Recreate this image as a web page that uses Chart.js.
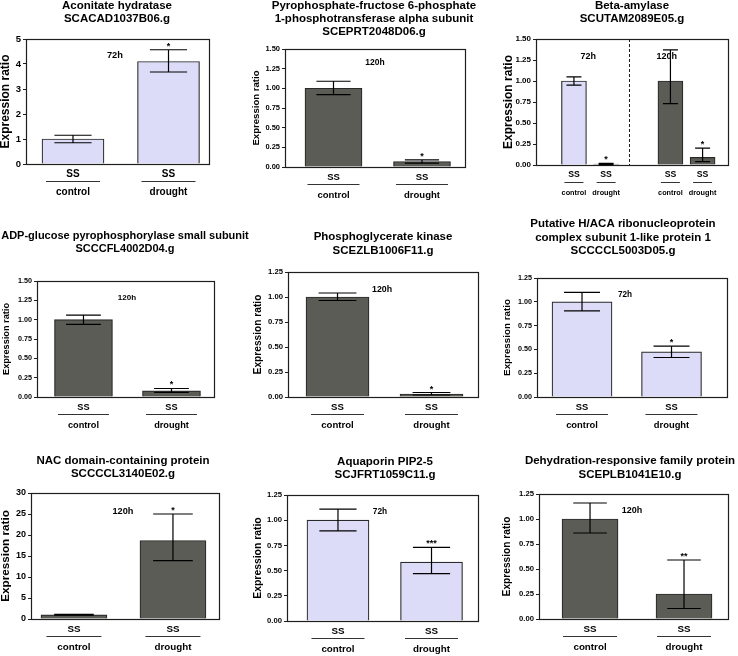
<!DOCTYPE html>
<html>
<head>
<meta charset="utf-8">
<script src="https://cdn.jsdelivr.net/npm/chart.js@4.4.0/dist/chart.umd.min.js"></script>
<style>
  body { margin: 0; background: #fff; }
  #wrap { position: relative; width: 738px; height: 656px; overflow: hidden; background: #fff; }
  #wrap canvas { position: absolute; }
</style>
</head>
<body>
<div id="wrap"></div>
<script>
// ---- data (one entry per panel, reading order) ----
const titles = [
  ['Aconitate hydratase', 'SCACAD1037B06.g'],
  ['Pyrophosphate-fructose 6-phosphate', '1-phosphotransferase alpha subunit', 'SCEPRT2048D06.g'],
  ['Beta-amylase', 'SCUTAM2089E05.g'],
  ['ADP-glucose pyrophosphorylase small subunit', 'SCCCFL4002D04.g'],
  ['Phosphoglycerate kinase', 'SCEZLB1006F11.g'],
  ['Putative H/ACA ribonucleoprotein', 'complex subunit 1-like protein 1', 'SCCCCL5003D05.g'],
  ['NAC domain-containing protein', 'SCCCCL3140E02.g'],
  ['Aquaporin PIP2-5', 'SCJFRT1059C11.g'],
  ['Dehydration-responsive family protein', 'SCEPLB1041E10.g']
];
const genotype = 'SS';
const conditions = [
  ['control', 'drought'], ['control', 'drought'], ['control', 'drought', 'control', 'drought'],
  ['control', 'drought'], ['control', 'drought'], ['control', 'drought'],
  ['control', 'drought'], ['control', 'drought'], ['control', 'drought']
];
const times = [
  ['72h', '72h'], ['120h', '120h'], ['72h', '72h', '120h', '120h'],
  ['120h', '120h'], ['120h', '120h'], ['72h', '72h'],
  ['120h', '120h'], ['72h', '72h'], ['120h', '120h']
];
const means = [
  [1.0, 4.1], [1.0, 0.07], [1.0, 0.012, 1.0, 0.09],
  [1.0, 0.08], [1.0, 0.03], [1.0, 0.475],
  [1.0, 18.7], [1.0, 0.585], [1.0, 0.25]
];
const errLow = [
  [0.85, 3.68], [0.92, 0.05], [0.95, 0.005, 0.73, 0.04],
  [0.94, 0.06], [0.965, 0.02], [0.905, 0.415],
  [0.9, 13.9], [0.895, 0.47], [0.86, 0.105]
];
const errHigh = [
  [1.15, 4.57], [1.09, 0.09], [1.05, 0.02, 1.37, 0.2],
  [1.06, 0.11], [1.04, 0.045], [1.10, 0.535],
  [1.1, 25.0], [1.11, 0.73], [1.16, 0.59]
];
const stars = [
  ['', '*'], ['', '*'], ['', '*', '', '*'],
  ['', '*'], ['', '*'], ['', '*'],
  ['', '*'], ['', '***'], ['', '**']
];
const yMax = [5, 1.5, 1.5, 1.5, 1.25, 1.25, 30, 1.25, 1.25];
const yStep = [1, 0.25, 0.25, 0.25, 0.25, 0.25, 5, 0.25, 0.25];
const yDec = [0, 2, 2, 2, 2, 2, 0, 2, 2];

// ---- look & placement ----
const barColors = { '72h': '#dcdcf8', '120h': '#5a5c55' };
const FONT = '"Liberation Sans", Arial, Helvetica, sans-serif';
Chart.defaults.font.family = FONT;

// box: canvas [x, y, w, h]; area: plot [left, top, right, bottom] (page px)
// slots: category slot of each bar on the x axis (a gap slot splits time points)
const layout = [
  { box: [0, 0, 245, 210], area: [26, 39, 209, 164], xr: [0.508, 2.424], bar: 62, lineW: 54, tfs: 11.5,
    titleX: 117, titleY: [6, 19], yTitleX: 6, fs: { tick: 9.5, ytitle: 12, label: 10, group: 10, tag: 9.3 }, tags: [[0.486, 0.128]] },
  { box: [245, 0, 245, 210], area: [285, 49, 465, 167], xr: [0.452, 2.486], bar: 57, lineW: 52, tfs: 11.5,
    titleX: 374, titleY: [6, 18.5, 31.5], yTitleX: 256.7, fs: { tick: 7.5, ytitle: 9.6, label: 9.5, group: 9.5, tag: 8.5 }, tags: [[0.5, 0.119]] },
  { box: [490, 0, 248, 210], area: [536, 39, 728, 165], xr: [-0.18, 5.79], bar: 25, lineW: 19, tfs: 11.5, slots: [1, 2, 4, 5],
    titleX: 632, titleY: [6, 19], yTitleX: 508.3, fs: { tick: 8, ytitle: 12, label: 8.7, group: 7.3, tag: 9 },
    tags: [[0.272, 0.14], [0.681, 0.14]], divider: 0.484 },
  { box: [0, 210, 250, 220], area: [37, 281, 214, 397], xr: [0.472, 2.483], bar: 58, lineW: 51, tfs: 11,
    titleX: 125, titleY: [236, 249], yTitleX: 6.7, fs: { tick: 7.2, ytitle: 9.2, label: 9.2, group: 9.2, tag: 8 }, tags: [[0.508, 0.147]] },
  { box: [245, 210, 245, 220], area: [288, 272, 478, 397], xr: [0.473, 2.495], bar: 63, lineW: 53, tfs: 11.5,
    titleX: 383, titleY: [237, 251], yTitleX: 257.7, fs: { tick: 7.7, ytitle: 10.2, label: 9.6, group: 9.6, tag: 8.8 }, tags: [[0.495, 0.144]] },
  { box: [490, 210, 248, 220], area: [537, 278, 727, 397], xr: [0.497, 2.62], bar: 60, lineW: 52, tfs: 11.5,
    titleX: 623, titleY: [224, 238, 251], yTitleX: 507.3, fs: { tick: 7.2, ytitle: 9.8, label: 9.4, group: 9.4, tag: 8.2 }, tags: [[0.463, 0.143]] },
  { box: [0, 430, 245, 226], area: [31, 493, 219, 619], xr: [0.566, 2.465], bar: 66, lineW: 55, tfs: 11.5,
    titleX: 123, titleY: [461, 474], yTitleX: 6, fs: { tick: 9, ytitle: 11.7, label: 9.8, group: 9.8, tag: 9.2 }, tags: [[0.489, 0.143]] },
  { box: [245, 430, 245, 226], area: [287, 495, 478, 621], xr: [0.455, 2.497], bar: 62, lineW: 53, tfs: 11.5,
    titleX: 385, titleY: [462, 475], yTitleX: 257.7, fs: { tick: 7.7, ytitle: 10.4, label: 9.8, group: 9.8, tag: 8.3 }, tags: [[0.487, 0.135]] },
  { box: [490, 430, 248, 226], area: [539, 494, 728, 619], xr: [0.457, 2.468], bar: 56, lineW: 54, tfs: 11.5,
    titleX: 630, titleY: [461, 475], yTitleX: 507.3, fs: { tick: 7.7, ytitle: 10.2, label: 9.8, group: 9.8, tag: 9 }, tags: [[0.492, 0.136]] }
];

function bold(sz) { return 'bold ' + sz + 'px ' + FONT; }

// frame, error bars, stars, x labels, titles
const decorations = {
  id: 'decorations',
  afterDatasetsDraw(chart, args, opts) {
    const p = opts.panel, L = layout[p];
    const ctx = chart.ctx, a = chart.chartArea;
    const ys = chart.scales.y;
    const bars = chart.getDatasetMeta(0).data;
    ctx.save();

    ctx.strokeStyle = '#1e1e1e';
    ctx.lineWidth = 1.2;
    ctx.strokeRect(Math.round(a.left) + 0.5, Math.round(a.top) + 0.5, Math.round(a.width), Math.round(a.height));

    if (L.divider) {
      const dx = Math.round(a.left + L.divider * a.width) + 0.5;
      ctx.setLineDash([3, 2]);
      ctx.lineWidth = 1;
      ctx.beginPath();
      ctx.moveTo(dx, a.top);
      ctx.lineTo(dx, a.bottom);
      ctx.stroke();
      ctx.setLineDash([]);
    }

    ctx.fillStyle = '#000';
    ctx.textAlign = 'center';
    bars.forEach((bar, i) => {
      const x = bar.x, cap = bar.width * 0.3;
      const lo = ys.getPixelForValue(errLow[p][i]);
      const hi = ys.getPixelForValue(errHigh[p][i]);
      ctx.strokeStyle = '#000';
      ctx.lineWidth = 1.2;
      ctx.beginPath();
      ctx.moveTo(x, lo); ctx.lineTo(x, hi);
      ctx.moveTo(x - cap, lo); ctx.lineTo(x + cap, lo);
      ctx.moveTo(x - cap, hi); ctx.lineTo(x + cap, hi);
      ctx.stroke();

      if (stars[p][i]) {
        ctx.font = bold(9);
        ctx.textBaseline = 'alphabetic';
        ctx.fillText(stars[p][i], x, hi - 1);
      }

      ctx.textBaseline = 'middle';
      ctx.font = bold(L.fs.label);
      ctx.fillText(genotype, x, a.bottom + 10);
      ctx.strokeStyle = '#333';
      ctx.lineWidth = 1;
      ctx.beginPath();
      ctx.moveTo(x - L.lineW / 2, Math.round(a.bottom + 17) + 0.5);
      ctx.lineTo(x + L.lineW / 2, Math.round(a.bottom + 17) + 0.5);
      ctx.stroke();
      ctx.font = bold(L.fs.group);
      ctx.fillText(conditions[p][i], x, a.bottom + 28);
    });

    ctx.font = bold(L.fs.tag);
    ctx.textBaseline = 'middle';
    [...new Set(times[p])].forEach((t, k) => {
      const [fx, fy] = L.tags[k];
      ctx.fillText(t, a.left + fx * a.width, a.top + fy * a.height);
    });

    ctx.font = bold(L.tfs);
    titles[p].forEach((t, k) => {
      ctx.fillText(t, L.titleX - L.box[0], L.titleY[k] - L.box[1]);
    });
    ctx.restore();
  }
};

const wrap = document.getElementById('wrap');

layout.forEach((L, p) => {
  const [bx, by, bw, bh] = L.box;
  const [al, at, ar, ab] = L.area;
  const canvas = document.createElement('canvas');
  canvas.width = bw;
  canvas.height = bh;
  canvas.style.left = bx + 'px';
  canvas.style.top = by + 'px';
  wrap.appendChild(canvas);

  const slots = L.slots || means[p].map((v, i) => i + 1);

  new Chart(canvas.getContext('2d'), {
    type: 'bar',
    data: {
      datasets: [{
        data: means[p].map((v, i) => ({ x: slots[i], y: v })),
        backgroundColor: times[p].map(t => barColors[t]),
        borderColor: '#2a2a2a',
        borderWidth: 1.2,
        barThickness: L.bar
      }]
    },
    options: {
      responsive: false,
      animation: false,
      layout: { padding: { left: 0, top: at - by, right: bx + bw - ar, bottom: by + bh - ab } },
      scales: {
        x: {
          type: 'linear', display: false, offset: false,
          min: L.xr[0], max: L.xr[1],
          grid: { offset: false }
        },
        y: {
          min: 0, max: yMax[p],
          afterFit: s => { s.width = al - bx; },
          border: { display: false },
          grid: { drawOnChartArea: false, drawTicks: true, tickLength: 3, color: '#1e1e1e' },
          ticks: {
            stepSize: yStep[p], padding: 2, color: '#000',
            font: { size: L.fs.tick, weight: 'bold' },
            callback: v => v.toFixed(yDec[p])
          },
          title: {
            display: true, text: 'Expression ratio', color: '#000',
            font: { size: L.fs.ytitle, weight: 'bold', lineHeight: 1.2 },
            padding: { top: L.yTitleX - bx - L.fs.ytitle * 0.6, bottom: 0 }
          }
        }
      },
      plugins: {
        legend: { display: false },
        tooltip: { enabled: false },
        decorations: { panel: p }
      }
    },
    plugins: [decorations]
  });
});
</script>
</body>
</html>
